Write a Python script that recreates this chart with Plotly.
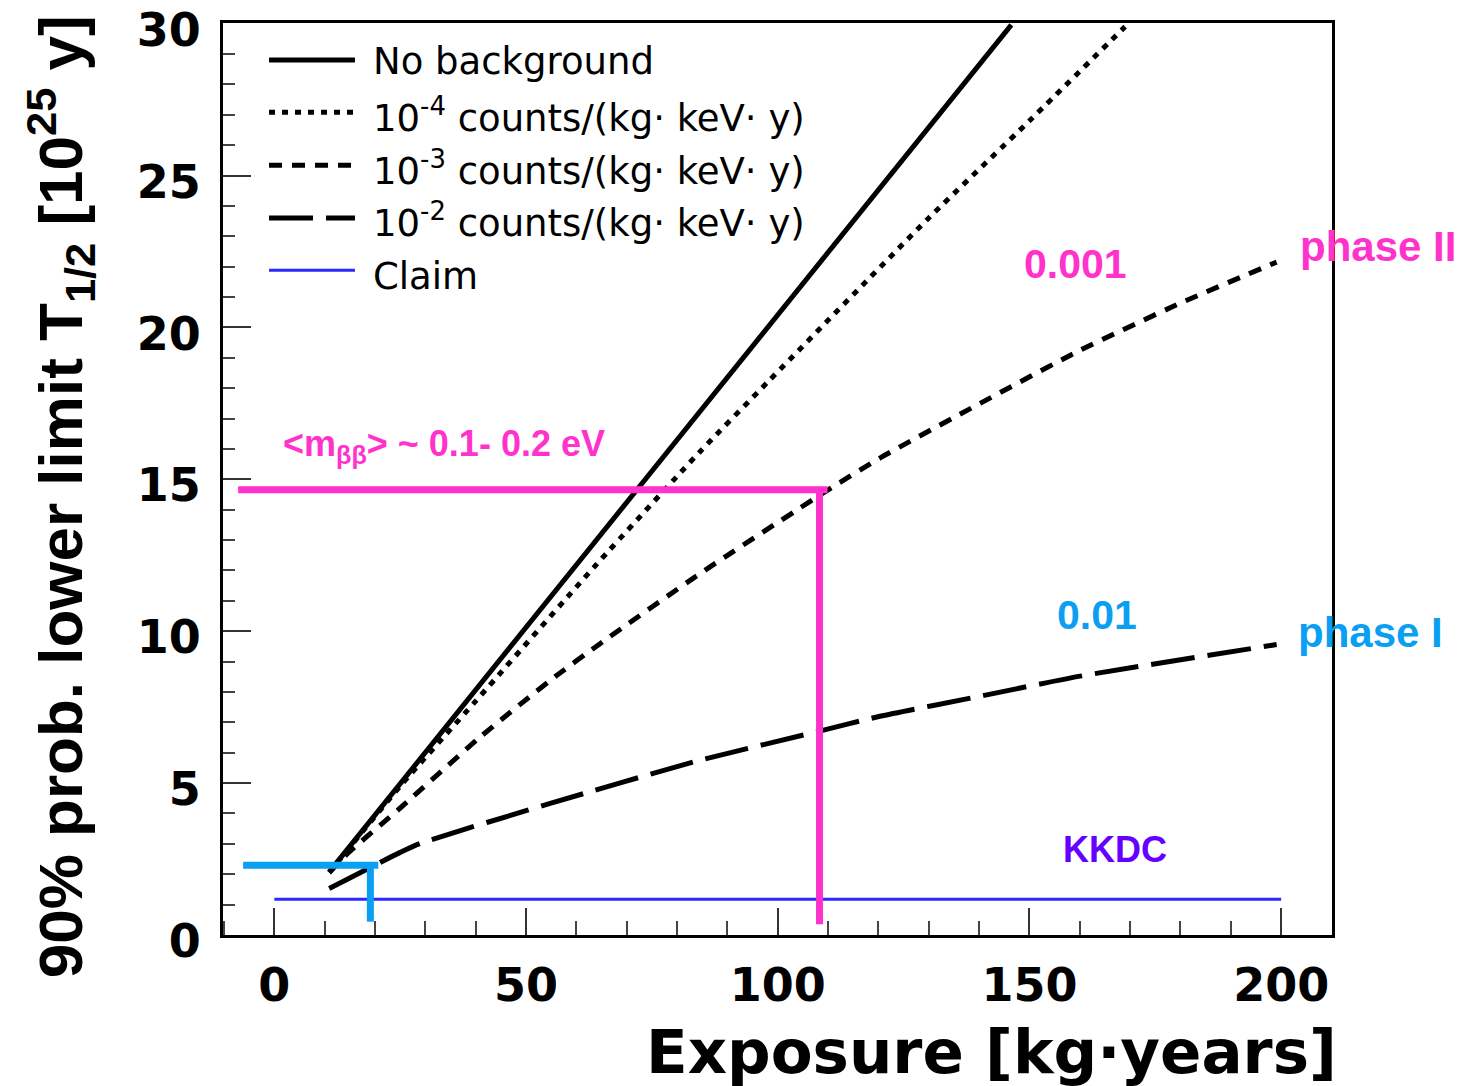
import plotly.graph_objects as go

# ---------------- data ----------------
exposure_nobkg = [10.9, 50, 100, 146.4]
limit_nobkg = [2.08, 10.14, 20.42, 29.96]

exposure_b4 = [10.9, 25, 40, 64, 84.5, 98, 130, 150, 169]
limit_b4 = [2.06, 4.9, 7.7, 12.2, 15.9, 18.2, 23.6, 26.8, 29.9]

exposure_b3 = [10.9, 14.6, 25, 40.9, 54.8, 64.7, 84.5, 109.7, 120.3, 140.2, 160.1, 180, 199.1]
limit_b3 = [2.05, 2.69, 4.18, 6.52, 8.38, 9.59, 11.89, 14.62, 15.70, 17.5, 19.25, 20.8, 22.15]

exposure_b2 = [10.9, 25, 28.9, 54.8, 84.5, 108.3, 120.3, 140.2, 160.1, 199.1]
limit_b2 = [1.53, 2.72, 3.01, 4.33, 5.75, 6.71, 7.20, 7.86, 8.52, 9.56]

claim_x = [0, 200]
claim_y = [1.18, 1.18]

phase1_h_x = [-6.2, 20.65]
phase1_h_y = [2.30, 2.30]
phase1_v_x = [19.07, 19.07]
phase1_v_y = [2.30, 0.44]

phase2_h_x = [-7.2, 109.9]
phase2_h_y = [14.66, 14.66]
phase2_v_x = [108.3, 108.3]
phase2_v_y = [14.66, 0.35]

legend_labels = [
    "No background",
    "10<sup>-4</sup> counts/(kg· keV· y)",
    "10<sup>-3</sup> counts/(kg· keV· y)",
    "10<sup>-2</sup> counts/(kg· keV· y)",
    "Claim",
]

# ---------------- styles ----------------
PINK = "#ff33cc"
CYAN = "#0a9ff2"
PURPLE = "#6600ff"
BLUE = "#2a2aff"
DOT = "6px,7px"
DASH = "13px,10px"
LDASH = "44px,13px"

fig = go.Figure()

def line(x, y, color, width, dash="solid", name=None, shape="linear"):
    fig.add_trace(go.Scatter(x=x, y=y, mode="lines", name=name,
                             line=dict(color=color, width=width, dash=dash,
                                       shape=shape, smoothing=0.6),
                             hoverinfo="skip"))

line(claim_x, claim_y, BLUE, 3, name="Claim")
line(exposure_nobkg, limit_nobkg, "black", 5, name="No background")
line(exposure_b4, limit_b4, "black", 5, DOT, name="1e-4", shape="spline")
line(exposure_b3, limit_b3, "black", 5, DASH, name="1e-3", shape="spline")
line(exposure_b2, limit_b2, "black", 5, LDASH, name="1e-2", shape="spline")
line(phase1_h_x, phase1_h_y, CYAN, 7)
line(phase1_v_x, phase1_v_y, CYAN, 7)
line(phase2_h_x, phase2_h_y, PINK, 7)
line(phase2_v_x, phase2_v_y, PINK, 7)

# ---------------- manual legend ----------------
leg_dashes = ["solid", DOT, DASH, LDASH, "solid"]
leg_colors = ["black", "black", "black", "black", BLUE]
leg_widths = [5, 5, 5, 5, 3]
leg_rows = [0.9595, 0.9021, 0.8440, 0.7862, 0.7289]
leg_text_shift = [-0.002, -0.003, -0.003, -0.003, -0.0065]
for lab, d, c, w, yy, sh in zip(legend_labels, leg_dashes, leg_colors, leg_widths, leg_rows, leg_text_shift):
    fig.add_shape(type="line", xref="paper", yref="paper", x0=0.0415, x1=0.119,
                  y0=yy, y1=yy, line=dict(color=c, width=w, dash=d))
    fig.add_annotation(xref="paper", yref="paper", x=0.1335, y=yy + sh, text=lab,
                       showarrow=False, xanchor="left", yanchor="middle",
                       font=dict(family="DejaVu Sans", size=37, color="black"))

# ---------------- coloured labels ----------------
LAB = "Liberation Sans, Arial, sans-serif"
def label(x, y, text, color, size, xanchor="center"):
    fig.add_annotation(x=x, y=y, text=text, showarrow=False, xanchor=xanchor,
                       yanchor="middle", font=dict(family=LAB, size=size, color=color))

label(1.4, 16.1, "<b>&lt;m<sub>ββ</sub>&gt; ~ 0.1- 0.2 eV</b>", PINK, 36, "left")
label(159.1, 22.1, "<b>0.001</b>", PINK, 41)
label(203.4, 22.67, "<b>phase II</b>", PINK, 42, "left")
label(163.4, 10.53, "<b>0.01</b>", CYAN, 41)
label(203.0, 9.95, "<b>phase I</b>", CYAN, 42, "left")
label(167.0, 2.82, "<b>KKDC</b>", PURPLE, 36)

# ---------------- axis titles ----------------
fig.add_annotation(xref="paper", yref="paper", x=1.006, y=-0.128,
                   text="<b>Exposure [kg·years]</b>", showarrow=False,
                   xanchor="right", yanchor="middle",
                   font=dict(family="DejaVu Sans", size=61, color="black"))
fig.add_annotation(xref="paper", yref="paper", x=-0.147, y=0.481, textangle=-90,
                   text="<b>90% prob. lower limit T<sub>1/2</sub> [10<sup>25</sup> y]</b>",
                   showarrow=False, xanchor="center", yanchor="middle",
                   font=dict(family="Liberation Sans, Arial, sans-serif", size=62, color="black"))

tickfont = dict(family="DejaVu Sans", size=46, color="black", weight="bold")
fig.update_xaxes(range=[-10.2, 210.1], showgrid=False, zeroline=False, automargin=False,
                 showline=True, linewidth=3, linecolor="black", mirror=True,
                 tickmode="linear", tick0=0, dtick=50, ticks="inside", ticklen=27,
                 tickwidth=2, tickcolor="#333", tickfont=tickfont, ticklabelstandoff=8,
                 ticklabeloverflow="allow",
                 minor=dict(tick0=0, dtick=10, ticks="inside", ticklen=14, tickwidth=2, tickcolor="#444"))
fig.update_yaxes(range=[0, 30.02], showgrid=False, zeroline=False, automargin=False,
                 showline=True, linewidth=3, linecolor="black", mirror=True,
                 tickmode="linear", tick0=0, dtick=5, ticks="inside", ticklen=28,
                 tickwidth=2, tickcolor="#333", tickfont=tickfont, ticklabelstandoff=10,
                 ticklabelshift=6, ticklabeloverflow="allow",
                 minor=dict(tick0=0, dtick=1, ticks="inside", ticklen=12, tickwidth=2, tickcolor="#444"))

fig.update_layout(width=1474, height=1086, margin=dict(l=223, r=142, t=23, b=151, autoexpand=False),
                  plot_bgcolor="white", paper_bgcolor="white", showlegend=False)

fig.write_html("out.html", config={"displayModeBar": False},
               post_script="document.body.style.margin='0';document.body.style.overflow='hidden';")
